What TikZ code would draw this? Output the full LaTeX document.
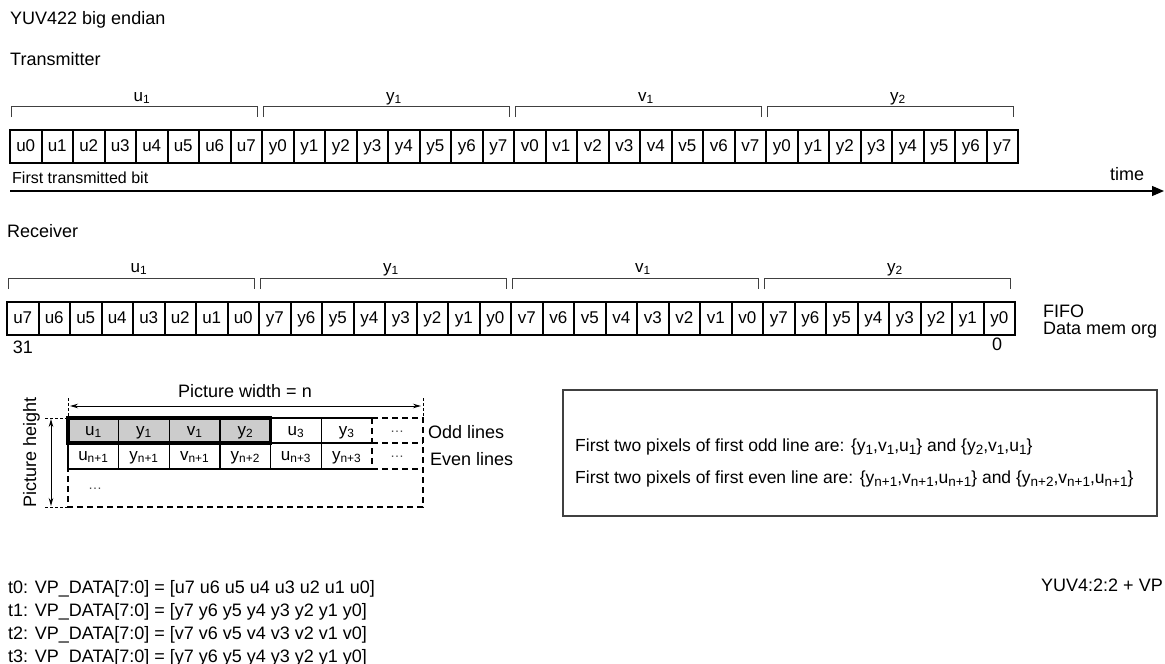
\documentclass[tikz,border=0pt]{standalone}
\usepackage{fontspec}
\setmainfont{Liberation Sans}
\usetikzlibrary{positioning, calc, arrows.meta}
\definecolor{cellgray}{HTML}{CCCCCC}
\definecolor{linegray}{HTML}{404040}
\newcommand{\boxsub}[1]{\raisebox{-3.5pt}{\fontsize{13.5}{13.5}\selectfont #1}}

\begin{document}
\begin{tikzpicture}[x=1pt, y=-1pt, >=Stealth,
    bit/.style={draw, line width=2pt, minimum width=31.5pt, minimum height=33pt, inner sep=0pt, text height=12.5pt, text depth=3.5pt, font=\fontsize{17}{17}\selectfont},
    brace/.style={draw=linegray, line width=1pt},
    txt/.style={inner sep=0pt, anchor=base west, font=\fontsize{18}{18}\selectfont},
    grp/.style={inner sep=0pt, anchor=base, font=\fontsize{17}{17}\selectfont},
    pix/.style={inner sep=0pt, text height=12pt, text depth=4pt, font=\fontsize{17}{17}\selectfont},
    dots/.style={inner sep=0pt, font=\fontsize{14}{14}\selectfont, text=black!70},
    solidgrid/.style={line width=1.5pt},
    dashgrid/.style={line width=2pt, dash pattern=on 6pt off 4pt},
    guide/.style={line width=0.8pt, dash pattern=on 3pt off 2pt},
    dim/.style={<->, line width=0.9pt, >={Stealth[length=8pt,width=4.5pt]}}]
\useasboundingbox (0,0) rectangle (1165,664);

% headings
\node[txt] (title) at (10,24) {YUV422 big endian};
\node[txt] (tx-title) at (10,65) {Transmitter};

% transmitter bits
\foreach \g [count=\j from 0] in {u,y,v,y}{
  \foreach \b in {0,...,7}{
    \pgfmathtruncatemacro{\k}{8*\j+\b}
    \node[bit] (tx-\k) at ({10+31.5*(\k+0.5)},146.5) {\g\b};
  }
}
\foreach \lab [count=\j from 0] in {u\textsubscript{1}, y\textsubscript{1}, v\textsubscript{1}, y\textsubscript{2}}{
  \pgfmathsetmacro{\xl}{10+252*\j+1}
  \pgfmathsetmacro{\xr}{10+252*(\j+1)-5}
  \draw[brace] (\xl,117) -- (\xl,106) -- (\xr,106) -- (\xr,117);
  \node[grp] (txg-\j) at ({(\xl+\xr)/2+8},101) {\lab};
}
\node[txt, font=\fontsize{16}{16}\selectfont] (first-bit) at (12,183) {First transmitted bit};
\coordinate (time-start) at (10,191);
\coordinate (time-end) at (1164,191);
\draw[line width=1.2pt, -{Triangle[length=12pt,width=10pt]}] (time-start) -- (time-end);
\node[txt, anchor=base] (time) at (1127,180) {time};

% receiver bits
\node[txt] (rx-title) at (7,237) {Receiver};
\foreach \g [count=\j from 0] in {u,y,v,y}{
  \foreach \b in {0,...,7}{
    \pgfmathtruncatemacro{\k}{8*\j+\b}
    \pgfmathtruncatemacro{\rb}{7-\b}
    \node[bit] (rx-\k) at ({7+31.5*(\k+0.5)},318.5) {\g\rb};
  }
}
\foreach \lab [count=\j from 0] in {u\textsubscript{1}, y\textsubscript{1}, v\textsubscript{1}, y\textsubscript{2}}{
  \pgfmathsetmacro{\xl}{7+252*\j+1}
  \pgfmathsetmacro{\xr}{7+252*(\j+1)-5}
  \draw[brace] (\xl,289) -- (\xl,278) -- (\xr,278) -- (\xr,289);
  \node[grp] (rxg-\j) at ({(\xl+\xr)/2+8},272) {\lab};
}
\node[txt, anchor=base] (msb) at (23,353) {31};
\node[txt, anchor=base] (lsb) at (997,350) {0};
\node[txt] (fifo) at (1043,317) {FIFO};
\node[txt] (fifo-org) at (1043,334) {Data mem org};

% picture layout
\node[txt, anchor=base] (pic-width) at (245,397) {Picture width = n};
\node[txt, anchor=base, rotate=90] (pic-height) at (36,452) {Picture height};
\fill[cellgray] (68,418) rectangle (270.67,443);
\draw[solidgrid] (68,443) -- (372,443);
\foreach \i in {1,...,5}
  \draw[solidgrid] ({68+50.667*\i},418) -- ({68+50.667*\i},469);
\draw[line width=2.5pt] (372,418) -- (68,418) -- (68,469) -- (372,469);
\draw[line width=3.5pt] (68,418) rectangle (270.67,443);
\draw[dashgrid] (372,418) -- (423,418) -- (423,507) -- (68,507) -- (68,469);
\draw[dashgrid] (372,418) -- (372,469) (372,443) -- (423,443) (372,469) -- (423,469);
\draw[guide] (68,398) -- (68,418);
\draw[guide] (423,398) -- (423,418);
\draw[guide] (45,418) -- (68,418);
\draw[guide] (45,507) -- (68,507);
\coordinate (pw-l) at (70,406);
\coordinate (pw-r) at (421,406);
\draw[dim] (pw-l) -- (pw-r);
\coordinate (ph-t) at (51,419);
\coordinate (ph-b) at (51,506);
\draw[dim] (ph-t) -- (ph-b);
\foreach \lab [count=\i from 0] in {u\textsubscript{1}, y\textsubscript{1}, v\textsubscript{1}, y\textsubscript{2}, u\textsubscript{3}, y\textsubscript{3}}
  \node[pix] (odd-\i) at ({68+50.667*(\i+0.5)},431) {\lab};
\foreach \lab [count=\i from 0] in {u\textsubscript{n+1}, y\textsubscript{n+1}, v\textsubscript{n+1}, y\textsubscript{n+2}, u\textsubscript{n+3}, y\textsubscript{n+3}}
  \node[pix] (even-\i) at ({68+50.667*(\i+0.5)},456) {\lab};
\node[dots] (odd-more) at (397,432) {…};
\node[dots] (even-more) at (397,457) {…};
\node[dots] (rows-more) at (95,489) {…};
\node[txt] (odd-lbl) at (428,438) {Odd lines};
\node[txt] (even-lbl) at (430,465) {Even lines};

% note box
\node[draw=linegray, line width=1.3pt, minimum width=594pt, minimum height=126pt, inner sep=0pt] (note) at (860,453) {};
\node[txt, font=\fontsize{17.5}{17.5}\selectfont] (note-odd) at (575,451) {First two pixels of first odd line are: \{y\boxsub{1},v\boxsub{1},u\boxsub{1}\} and \{y\boxsub{2},v\boxsub{1},u\boxsub{1}\}};
\node[txt, font=\fontsize{17.5}{17.5}\selectfont] (note-even) at (575,483) {First two pixels of first even line are: \{y\boxsub{n+1},v\boxsub{n+1},u\boxsub{n+1}\} and \{y\boxsub{n+2},v\boxsub{n+1},u\boxsub{n+1}\}};

% bus sequence
\foreach \g [count=\i from 0] in {u,y,v,y}
  \node[txt] (step-\i) at (8,{593+23*\i}) {t\i: VP\_DATA[7:0] = [\g7 \g6 \g5 \g4 \g3 \g2 \g1 \g0]};
\node[txt] (format) at (1041,591) {YUV4:2:2 + VP};
\end{tikzpicture}
\end{document}
